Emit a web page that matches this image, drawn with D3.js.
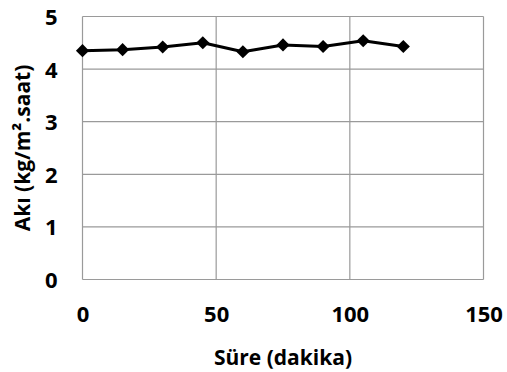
<!DOCTYPE html>
<html>
<head>
<meta charset="utf-8">
<script src="https://cdn.jsdelivr.net/npm/d3@7"></script>
<style>
  html, body { margin: 0; padding: 0; background: #fff; }
  text { font-family: "Open Sans", "Liberation Sans", sans-serif; font-weight: bold; fill: #000; }
</style>
</head>
<body>
<svg id="chart" width="507" height="372"></svg>
<script>
// Flux over time
const times = [0, 15, 30, 45, 60, 75, 90, 105, 120];
const flux = [4.35, 4.37, 4.42, 4.50, 4.33, 4.46, 4.43, 4.54, 4.43];
const xTicks = [0, 50, 100, 150];
const yTicks = [0, 1, 2, 3, 4, 5];
const xTitle = "Süre (dakika)";
const yTitle = "Akı (kg/m².saat)";

const svg = d3.select("#chart");
const m = { left: 82.5, right: 483.5, top: 16.5, bottom: 279.5 };

const x = d3.scaleLinear().domain([0, 150]).range([m.left, m.right]);
const y = d3.scaleLinear().domain([0, 5]).range([m.bottom, m.top]);

// grid lines
const grid = svg.append("g").attr("stroke", "#9a9a9a").attr("stroke-width", 1.2);
grid.selectAll("line.h").data(yTicks).join("line")
  .attr("x1", m.left).attr("x2", m.right)
  .attr("y1", d => y(d)).attr("y2", d => y(d));
grid.selectAll("line.v").data(xTicks).join("line")
  .attr("y1", m.top).attr("y2", m.bottom)
  .attr("x1", d => x(d)).attr("x2", d => x(d));

// axes (labels only)
const xAxis = svg.append("g")
  .attr("transform", `translate(0,${m.bottom + 35})`)
  .call(d3.axisBottom(x).tickValues(xTicks).tickSize(0).tickFormat(d3.format("d")));
xAxis.select(".domain").remove();
xAxis.selectAll("text").style("font-size", "22px").attr("y", 0).attr("dy", "0.36em");

const yAxis = svg.append("g")
  .attr("transform", `translate(${m.left - 25},0)`)
  .call(d3.axisLeft(y).tickValues(yTicks).tickSize(0).tickFormat(d3.format("d")));
yAxis.select(".domain").remove();
yAxis.selectAll("text").style("font-size", "22px").attr("x", 0).attr("dy", "0.36em");

// axis titles
svg.append("text")
  .attr("x", (m.left + m.right) / 2).attr("y", 365)
  .attr("text-anchor", "middle").style("font-size", "21px")
  .text(xTitle);

svg.append("text")
  .attr("transform", `translate(30,${(m.top + m.bottom) / 2}) rotate(-90)`)
  .attr("text-anchor", "middle").style("font-size", "21px")
  .text(yTitle);

// data line
const pts = times.map((t, i) => [t, flux[i]]);
svg.append("path")
  .datum(pts)
  .attr("fill", "none").attr("stroke", "#000").attr("stroke-width", 3)
  .attr("stroke-linejoin", "round")
  .attr("d", d3.line().x(d => x(d[0])).y(d => y(d[1])));

// diamond markers
svg.append("g").selectAll("path").data(pts).join("path")
  .attr("transform", d => `translate(${x(d[0])},${y(d[1])})`)
  .attr("d", d3.symbol().type(d3.symbolDiamond2).size(110))
  .attr("fill", "#000");
</script>
</body>
</html>
